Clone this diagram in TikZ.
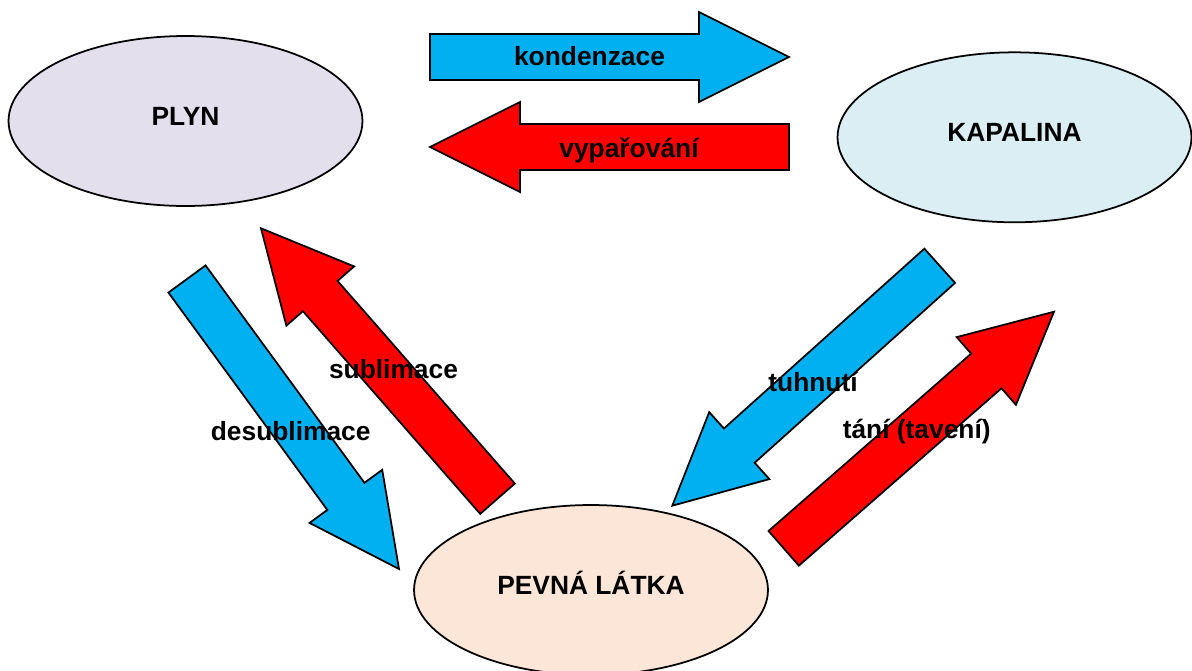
\documentclass[tikz,border=0pt]{standalone}
\usepackage{fontspec}
\setmainfont{Liberation Sans}
\usetikzlibrary{shapes.geometric,calc}
\definecolor{plyncol}{HTML}{E4DFEC}
\definecolor{kapcol}{HTML}{DAEEF3}
\definecolor{pevcol}{HTML}{FCE6D8}
\definecolor{coldblue}{HTML}{00B0F0}
\definecolor{hotred}{HTML}{FF0000}
\tikzset{
  phase/.style={ellipse,draw,line width=1pt,inner sep=0pt,
    minimum width=7.08cm,minimum height=3.4cm,
    text height=0.38cm,text depth=0.2cm,
    font=\fontsize{15}{18}\selectfont\bfseries},
  word/.style={anchor=base,inner sep=0pt,font=\fontsize{15}{18}\selectfont\bfseries},
  blockarr/.style={draw,line width=1pt,line join=miter}
}
% block arrow from tail #1 to tip #2, filled with #3
\newcommand{\blockarrow}[3]{%
  \coordinate (#1h) at ($(#2)!1.8cm!(#1)$);
  \draw[blockarr,fill=#3]
    ($(#1)!0.46cm!90:(#2)$) -- ($(#1h)!0.46cm!90:(#2)$)
    -- ($(#1h)!0.9cm!90:(#2)$) -- (#2)
    -- ($(#1h)!0.9cm!-90:(#2)$) -- ($(#1h)!0.46cm!-90:(#2)$)
    -- ($(#1)!0.46cm!-90:(#2)$) -- cycle;}
\begin{document}
\begin{tikzpicture}[x=0.02cm,y=-0.02cm]
  \useasboundingbox (0,0) rectangle (1192,670);
  % the three phases
  \node[phase,fill=plyncol] (plyn) at (185.5,121) {PLYN};
  \node[phase,fill=kapcol] (kapalina) at (1014.5,137.3) {KAPALINA};
  \node[phase,fill=pevcol] (pevna) at (591,590) {PEVNÁ LÁTKA};
  % arrow ends
  \coordinate (kondA) at (430,57);
  \coordinate (kondB) at (789,57);
  \coordinate (vypA) at (789,147);
  \coordinate (vypB) at (430,147);
  \coordinate (desA) at (187,279);
  \coordinate (desB) at (399,569);
  \coordinate (subA) at (497.5,498.7);
  \coordinate (subB) at (261,228.3);
  \coordinate (tuhA) at (939.7,265.8);
  \coordinate (tuhB) at (672.3,505.7);
  \coordinate (tanA) at (783.7,548.3);
  \coordinate (tanB) at (1054,311.7);
  \blockarrow{kondA}{kondB}{coldblue}
  \blockarrow{vypA}{vypB}{hotred}
  \blockarrow{desA}{desB}{coldblue}
  \blockarrow{subA}{subB}{hotred}
  \blockarrow{tuhA}{tuhB}{coldblue}
  \blockarrow{tanA}{tanB}{hotred}
  % labels
  \node[word] (kond) at (589.5,65) {kondenzace};
  \node[word] (vyp) at (629,157) {vypařování};
  \node[word] (des) at (290.7,440) {desublimace};
  \node[word] (sub) at (393.5,378.3) {sublimace};
  \node[word] (tuh) at (813,391.7) {tuhnutí};
  \node[word] (tan) at (916.7,438.5) {tání (tavení)};
\end{tikzpicture}
\end{document}
